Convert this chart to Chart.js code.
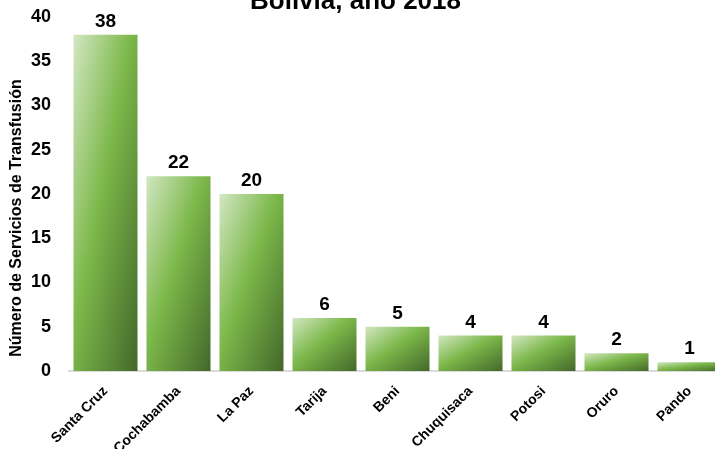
<!DOCTYPE html>
<html>
<head>
<meta charset="utf-8">
<script src="https://cdn.jsdelivr.net/npm/chart.js@4/dist/chart.umd.min.js"></script>
<style>
  html, body { margin: 0; padding: 0; background: #fff; overflow: hidden; }
  #wrap { position: relative; width: 715px; height: 449px; overflow: hidden; }
  #chart { position: absolute; left: 0; top: 0; }
</style>
</head>
<body>
<div id="wrap"><canvas id="chart" width="730" height="449"></canvas></div>
<script>
/* -----------------------------------------------------------
      DATA
------------------------------------------------------------*/
const departamentos = ["Santa Cruz", "Cochabamba", "La Paz", "Tarija", "Beni", "Chuquisaca", "Potosi", "Oruro", "Pando"];
const servicios = [38, 22, 20, 6, 5, 4, 4, 2, 1];
const yTicks = [0, 5, 10, 15, 20, 25, 30, 35, 40];

const chartTitle = "Bolivia, año 2018";
const yTitle = "Número de Servicios de Transfusión";

const FONT = '"Liberation Sans", Arial, sans-serif';
const BAR_PCT = 0.877;

/* GRADIENT PER BAR (light top-left -> dark bottom-right) */
function barGradient(c) {
  const chart = c.chart;
  const xs = chart.scales.x, ys = chart.scales.y;
  if (c.type !== "data" || !xs || !ys) return "#7ab648";
  const cx = xs.getPixelForValue(c.dataIndex);
  const w = (xs.width / departamentos.length) * BAR_PCT;
  const top = ys.getPixelForValue(c.raw);
  const bot = ys.getPixelForValue(0);
  const h = Math.max(bot - top, 1);
  const x0 = cx - w / 2;
  const k = (2 * w * h) / (w * w + h * h);
  const pts = [x0, top, x0 + h * k, top + w * k];
  if (!pts.every(Number.isFinite) || w <= 0) return "#7ab648";
  const g = chart.ctx.createLinearGradient(pts[0], pts[1], pts[2], pts[3]);
  g.addColorStop(0, "#d2e7c2");
  g.addColorStop(0.45, "#7cb84a");
  g.addColorStop(1, "#43682a");
  return g;
}

/* VALUE LABELS + TITLES */
const textPlugin = {
  id: "textPlugin",
  afterDatasetsDraw(chart) {
    const ctx = chart.ctx;
    const meta = chart.getDatasetMeta(0);
    ctx.save();
    ctx.fillStyle = "#000";
    ctx.font = "bold 19px " + FONT;
    ctx.textAlign = "center";
    ctx.textBaseline = "alphabetic";
    meta.data.forEach((el, i) => {
      ctx.fillText(String(servicios[i]), el.x, el.y - 8);
    });
    ctx.restore();
  },
  afterDraw(chart) {
    const ctx = chart.ctx;
    ctx.save();
    ctx.fillStyle = "#000";
    // chart title (cut off at the top like the original)
    ctx.font = "bold 26px " + FONT;
    ctx.textAlign = "center";
    ctx.textBaseline = "alphabetic";
    ctx.fillText(chartTitle, 355.5, 9);
    // y axis title
    ctx.translate(17, 218);
    ctx.rotate(-Math.PI / 2);
    ctx.font = "bold 16px " + FONT;
    ctx.textBaseline = "middle";
    ctx.fillText(yTitle, 0, 0);
    ctx.restore();
  }
};

/* -----------------------------------------------------------
      CHART
------------------------------------------------------------*/
const ctx = document.getElementById("chart").getContext("2d");

const chart = new Chart(ctx, {
  type: "bar",
  data: {
    labels: departamentos,
    datasets: [
      {
        label: "Servicios",
        data: servicios,
        backgroundColor: barGradient,
        borderWidth: 0,
        barPercentage: BAR_PCT,
        categoryPercentage: 1
      }
    ]
  },
  options: {
    responsive: false,
    devicePixelRatio: 1,
    animation: false,
    layout: { padding: { top: 17, right: 4, left: 0, bottom: 0 } },
    plugins: {
      legend: { display: false },
      tooltip: { enabled: false },
      title: { display: false }
    },
    scales: {
      x: {
        z: 1,
        grid: { display: false },
        border: { display: true, color: "rgba(190,190,190,0.55)", width: 2 },
        ticks: {
          color: "#000",
          font: { family: FONT, size: 14, weight: "bold" },
          maxRotation: 45,
          minRotation: 45,
          autoSkip: false,
          padding: 4
        },
        afterFit(s) { s.height = 78; s.paddingLeft = 0; s.paddingRight = 0; }
      },
      y: {
        min: 0,
        max: 40,
        grid: { display: false },
        border: { display: false },
        afterBuildTicks(s) { s.ticks = yTicks.map((v) => ({ value: v })); },
        ticks: {
          color: "#000",
          font: { family: FONT, size: 18, weight: "bold" },
          padding: 10
        },
        afterFit(s) { s.width = 69; s.paddingTop = 0; s.paddingBottom = 0; }
      }
    }
  },
  plugins: [textPlugin]
});

// second pass so the gradients see the final scale layout
chart.update("none");
</script>
</body>
</html>
